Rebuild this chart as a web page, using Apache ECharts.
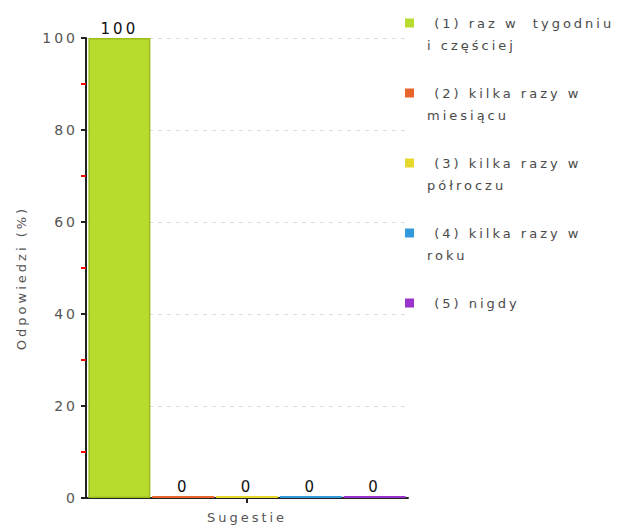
<!DOCTYPE html>
<html><head><meta charset="utf-8">
<script src="https://cdn.jsdelivr.net/npm/echarts@6/dist/echarts.min.js"></script>
<style>html,body{margin:0;padding:0;background:#fff}#c{width:624px;height:529px}
#c svg text{letter-spacing:3px}</style>
</head><body><div id="c"></div>
<script>
const categories = ['Sugestie'];
const seriesNames = [' (1) raz w  tygodniu\ni częściej', ' (2) kilka razy w\nmiesiącu', ' (3) kilka razy w\npółroczu', ' (4) kilka razy w\nroku', ' (5) nigdy\n'];
const seriesValues = [[100], [0], [0], [0], [0]];
const colors = ['#b8dc2e', '#e8662c', '#e6d82c', '#3399dd', '#9933cc'];
const borders = ['#9cbc1c', '#e8662c', '#e6d82c', '#3399dd', '#9933cc'];
const yTicks = [0, 20, 40, 60, 80, 100];

const font = 'DejaVu Sans';
// legend icon: square level with the first text line
const iconTop = 'path://M0,0h0.01v0.01h-0.01z M16.99,43.99h0.01v0.01h-0.01z M0,6.5h9v9h-9z';

const chart = echarts.init(document.getElementById('c'), null, {renderer: 'svg'});
chart.setOption({
  animation: false,
  textStyle: {fontFamily: font},
  grid: {left: 86, top: 38, right: 216, bottom: 31, containLabel: false},
  legend: {
    orient: 'vertical', left: 405, top: 12, padding: 0, itemWidth: 17, itemHeight: 44, itemGap: 26,
    itemStyle: {borderWidth: 0},
    textStyle: {fontFamily: font, fontSize: 13, color: '#4a4a4a', lineHeight: 22},
    data: seriesNames.map(n => ({name: n, icon: iconTop}))
  },
  xAxis: {
    type: 'category', data: categories,
    axisLine: {lineStyle: {color: '#222', width: 2}},
    axisTick: {show: true, alignWithLabel: true, length: 5, lineStyle: {color: '#222', width: 2}},
    axisLabel: {fontFamily: font, fontSize: 13, color: '#555', margin: 13},
    splitLine: {show: false}
  },
  yAxis: {
    type: 'value', min: yTicks[0], max: yTicks[yTicks.length - 1], interval: 20,
    name: 'Odpowiedzi (%)', nameLocation: 'middle', nameGap: 58, nameRotate: 90,
    nameTextStyle: {fontFamily: font, fontSize: 13, color: '#555', padding: [0, 20, 0, 0]},
    axisLine: {show: true, lineStyle: {color: '#222', width: 2}},
    axisTick: {show: true, length: 5, lineStyle: {color: '#222', width: 2}},
    minorTick: {show: true, splitNumber: 2, length: 5, lineStyle: {color: '#ff0000', width: 2}},
    axisLabel: {fontFamily: font, fontSize: 14, color: '#555', margin: 8},
    splitLine: {show: true, lineStyle: {color: '#dddddd', type: [4, 5], width: 1}}
  },
  series: seriesNames.map((n, i) => ({
    name: n, type: 'bar', data: seriesValues[i],
    barGap: '3%', barCategoryGap: '1.5%', barMinHeight: 2,
    itemStyle: {color: colors[i], borderColor: borders[i], borderWidth: i === 0 ? 1.5 : 0},
    label: {show: true, position: 'top', distance: 2, fontFamily: font, fontSize: 15, color: '#111'}
  }))
});
</script></body></html>
